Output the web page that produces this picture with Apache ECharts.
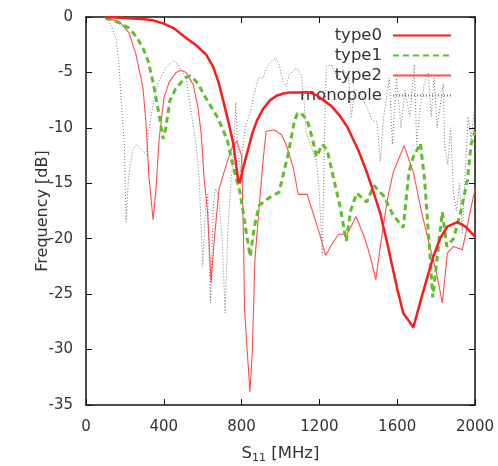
<!DOCTYPE html>
<html>
<head>
<meta charset="utf-8">
<script src="https://cdn.jsdelivr.net/npm/echarts@6/dist/echarts.min.js"></script>
<style>html,body{margin:0;padding:0;background:#fff}#c{width:498px;height:466px}</style>
</head>
<body>
<div id="c"></div>
<script>
var xTicks = [0, 400, 800, 1200, 1600, 2000];
var yTicks = [0, -5, -10, -15, -20, -25, -30, -35];
var seriesNames = ['type0', 'type1', 'type2', 'monopole'];

var type0 = [[100,0],[200,-0.1],[300,-0.2],[345,-0.3],[400,-0.6],[450,-1],[515,-1.9],[570,-2.6],[618,-3.4],[654,-4.5],[680,-5.8],[705,-7.5],[730,-9.3],[757,-11.4],[782,-14.7],[790,-15],[805,-13.8],[828,-12.3],[855,-10.5],[880,-9.3],[910,-8.3],[947,-7.5],[980,-7.1],[1014,-6.9],[1050,-6.8],[1100,-6.8],[1150,-6.8],[1190,-7.1],[1220,-7.5],[1260,-8],[1300,-8.8],[1343,-9.9],[1400,-12],[1446,-14.1],[1480,-15.9],[1513,-17.7],[1550,-20.5],[1600,-24.5],[1631,-26.7],[1683,-28],[1730,-25],[1786,-21.6],[1820,-20],[1858,-18.9],[1909,-18.5],[1951,-18.9],[2000,-19.8]];

var type1 = [[100,-0.1],[139,-0.3],[180,-0.6],[221,-1],[260,-1.8],[293,-2.8],[320,-4],[345,-5.9],[376,-8.8],[396,-11],[410,-10],[432,-7.5],[460,-6.5],[484,-6],[510,-5.5],[535,-5.3],[560,-5.7],[576,-6],[600,-6.8],[623,-7.5],[650,-8.3],[674,-9],[700,-10],[726,-11.1],[757,-13.5],[793,-15.9],[820,-19],[844,-21.6],[865,-19],[890,-17],[942,-16.3],[993,-15.8],[1040,-12.3],[1070,-9.5],[1086,-8.7],[1107,-8.7],[1137,-9.3],[1165,-11],[1185,-12.6],[1215,-11.5],[1240,-12],[1271,-14.4],[1305,-17],[1338,-20.2],[1360,-17.5],[1392,-15.9],[1443,-16.7],[1480,-15.2],[1529,-16.1],[1580,-17.9],[1631,-19],[1660,-14],[1683,-12.6],[1719,-11.4],[1740,-14.5],[1765,-20.6],[1783,-25.3],[1810,-21],[1832,-17.6],[1855,-20.7],[1889,-20],[1925,-17.7],[1961,-14.7],[1980,-11.5],[2000,-10.3]];

var type2 = [[100,-0.1],[170,-0.4],[221,-1.4],[257,-3.4],[293,-6.4],[309,-9.7],[324,-14.5],[345,-18.3],[360,-15.5],[376,-11],[401,-7.3],[427,-5.9],[463,-5],[489,-4.8],[515,-5],[551,-6.1],[576,-8.2],[592,-10.5],[607,-14.5],[625,-17.6],[643,-24],[660,-20],[684,-15.5],[720,-13.4],[750,-11.8],[775,-11.2],[800,-12.5],[810,-20],[815,-26.3],[829,-30.2],[843,-33.8],[855,-30.2],[862,-26],[868,-22],[890,-17.2],[910,-13],[926,-10.3],[968,-10.2],[1004,-10.6],[1029,-11.5],[1066,-13.6],[1091,-16],[1137,-16],[1168,-17.7],[1200,-19.5],[1232,-21.5],[1271,-20.3],[1300,-19.6],[1343,-19.6],[1388,-18],[1430,-19.8],[1460,-21.5],[1490,-23.7],[1513,-20.7],[1549,-16.5],[1580,-14],[1635,-11.6],[1683,-14],[1724,-17.5],[1765,-20.5],[1801,-23],[1832,-25.8],[1858,-21.3],[1889,-20.7],[1935,-21],[1970,-18],[2000,-15.5]];

var monopole = [[100,-0.1],[130,-0.8],[155,-2],[170,-4.3],[180,-7.3],[190,-9.7],[198,-12],[206,-18.5],[215,-15.5],[222,-14],[240,-12],[260,-11.5],[285,-12],[310,-12.4],[325,-10],[345,-7.9],[370,-5.9],[410,-4.6],[448,-3.9],[473,-4.3],[515,-5.5],[530,-7.3],[551,-9.7],[566,-11.5],[582,-14.5],[600,-22.5],[615,-17],[625,-16],[640,-25.8],[655,-17],[665,-15.5],[680,-16],[700,-20],[715,-26.7],[730,-19],[745,-15],[760,-12],[770,-7.7],[780,-12],[795,-14],[810,-11],[823,-9.7],[845,-8.5],[860,-7.3],[885,-5.5],[911,-5.5],[926,-4.6],[952,-4],[978,-3.7],[993,-4.3],[1014,-5.9],[1029,-6.3],[1045,-5.2],[1081,-4.6],[1107,-5.2],[1122,-7.7],[1132,-10.4],[1160,-11.8],[1185,-13],[1200,-16],[1215,-21.5],[1225,-12],[1235,-4.5],[1260,-4.3],[1290,-5.4],[1320,-4.7],[1350,-5.5],[1365,-9],[1380,-6.5],[1410,-6.9],[1440,-8],[1470,-9.3],[1497,-9.5],[1513,-13],[1530,-9],[1560,-5.5],[1575,-11.5],[1596,-5.5],[1620,-10],[1640,-6.6],[1665,-9],[1688,-4.3],[1700,-11.5],[1720,-8],[1740,-6],[1760,-5],[1775,-9],[1790,-5.5],[1805,-10],[1837,-6],[1845,-11.8],[1860,-13.3],[1875,-10],[1890,-16],[1905,-17.5],[1920,-15],[1935,-19.5],[1950,-14],[1965,-9],[1980,-11],[2000,-8]];

var FONT = 'DejaVu Sans';
var chart = echarts.init(document.getElementById('c'), null, {renderer: 'canvas'});

function plain(v) { return String(v); }

var option = {
  animation: false,
  backgroundColor: '#fff',
  textStyle: {fontFamily: FONT},
  grid: {left: 86, right: 23, top: 17, bottom: 61, show: false, containLabel: false, outerBoundsMode: 'none'},
  legend: {
    orient: 'vertical',
    right: 46,
    top: 27,
    align: 'right',
    itemWidth: 58,
    itemHeight: 14,
    itemGap: 3,
    padding: 0,
    itemStyle: {opacity: 0},
    textStyle: {fontFamily: FONT, fontSize: 16.5, color: '#333', padding: [0, 6, 0, 0]},
    data: seriesNames
  },
  xAxis: [{
    type: 'value', min: 0, max: 2000, interval: 400,
    position: 'bottom',
    name: '{a|S}{b|11}{a| [MHz]}',
    nameLocation: 'middle', nameGap: 38, nameMoveOverlap: false,
    nameTextStyle: {rich: {a: {fontFamily: FONT, fontSize: 16.5, color: '#333'}, b: {fontFamily: FONT, fontSize: 11, color: '#333', verticalAlign: 'bottom', padding: [10,0,0,0]}}},
    axisLine: {show: true, onZero: false, lineStyle: {color: '#111', width: 1.5}},
    axisTick: {show: true, inside: true, length: 6, lineStyle: {color: '#111', width: 1}},
    axisLabel: {fontFamily: FONT, fontSize: 15, color: '#333', margin: 15, formatter: plain},
    splitLine: {show: false}
  }, {
    type: 'value', min: 0, max: 2000, interval: 400,
    position: 'top',
    axisLine: {show: true, onZero: false, lineStyle: {color: '#111', width: 1.5}},
    axisTick: {show: true, inside: true, length: 6, lineStyle: {color: '#111', width: 1}},
    axisLabel: {show: false},
    splitLine: {show: false}
  }],
  yAxis: [{
    type: 'value', min: -35, max: 0, interval: 5,
    position: 'left',
    name: 'Frequency [dB]',
    nameLocation: 'middle', nameGap: 35, nameRotate: 90, nameMoveOverlap: false,
    nameTextStyle: {fontFamily: FONT, fontSize: 16, color: '#333'},
    axisLine: {show: true, onZero: false, lineStyle: {color: '#111', width: 1.5}},
    axisTick: {show: true, inside: true, length: 6, lineStyle: {color: '#111', width: 1}},
    axisLabel: {fontFamily: FONT, fontSize: 15, color: '#333', margin: 13, formatter: plain},
    splitLine: {show: false}
  }, {
    type: 'value', min: -35, max: 0, interval: 5,
    position: 'right',
    axisLine: {show: true, onZero: false, lineStyle: {color: '#111', width: 1.5}},
    axisTick: {show: true, inside: true, length: 6, lineStyle: {color: '#111', width: 1}},
    axisLabel: {show: false},
    splitLine: {show: false}
  }],
  series: [
    {name: 'monopole', type: 'line', data: monopole, symbol: 'none', z: 1,
     color: '#777', lineStyle: {color: '#777', width: 1, type: [1, 2]}},
    {name: 'type2', type: 'line', data: type2, symbol: 'none', z: 2,
     color: '#ff4d4d', lineStyle: {color: '#ff4d4d', width: 1.1}},
    {name: 'type1', type: 'line', data: type1, symbol: 'none', z: 3,
     color: '#5fbf2a', lineStyle: {color: '#5fbf2a', width: 3, type: [6, 4]}},
    {name: 'type0', type: 'line', data: type0, symbol: 'none', z: 4,
     color: '#ff1a1a', lineStyle: {color: '#ff1a1a', width: 2.5}}
  ]
};
chart.setOption(option);
</script>
</body>
</html>
